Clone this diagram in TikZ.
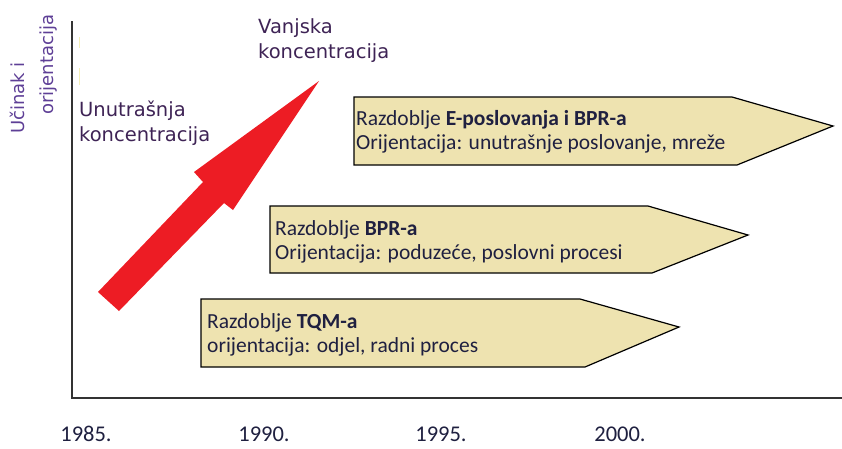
\documentclass[tikz,border=0pt]{standalone}
\usepackage{fontspec}
\setmainfont{Carlito}
\newfontfamily\labelfont{DejaVu Sans}
\definecolor{boxfill}{HTML}{EEE3B0}
\definecolor{arrowred}{HTML}{ED1C24}
\definecolor{labelpurple}{HTML}{3E2355}
\definecolor{axispurple}{HTML}{5E3F96}
\definecolor{textnavy}{HTML}{1F2040}
\definecolor{faintyellow}{HTML}{F4EFB8}
\begin{document}
\begin{tikzpicture}[x=1pt,y=-1pt,
  period/.style={fill=boxfill,draw=black,line width=1.2pt},
  periodtext/.style={anchor=west,align=left,inner sep=0pt,text=textnavy,font=\fontsize{21.5}{24}\selectfont},
  concept/.style={anchor=north west,align=left,inner sep=0pt,text=labelpurple,font=\labelfont\fontsize{19.5}{25}\selectfont},
  axislabel/.style={rotate=90,anchor=base west,inner sep=0pt,text=axispurple,font=\labelfont\fontsize{18}{21}\selectfont},
  year/.style={inner sep=0pt,text=textnavy,font=\fontsize{22.5}{26}\selectfont}]
\useasboundingbox (0,0) rectangle (842,448);
\draw [line width=2pt,black!80] (72,21) -- (72,398) -- (842,398);
\draw [faintyellow,line width=1pt] (79,37) -- (79,48) (79,68) -- (79,85);
\node [axislabel] (perf) at (24,134) {Učinak i};
\node [axislabel] (orient) at (53,115) {orijentacija};
\node [concept] (inner) at (79,101) {Unutrašnja\\koncentracija};
\node [concept] (outer) at (258,18) {Vanjska\\koncentracija};
\fill [arrowred] (98,292) -- (203,182) -- (194,172) -- (319,81) -- (233,210) -- (224,203) -- (119,311) -- cycle;
\filldraw [period] (354,97) -- (732,97) -- (833,126) -- (737,165) -- (354,165) -- cycle;
\node [periodtext] (ebiz) at (356,132) {Razdoblje \textbf{E-poslovanja i BPR-a}\\Orijentacija: unutrašnje poslovanje, mreže};
\filldraw [period] (270,206) -- (648,206) -- (748,235) -- (652,273) -- (270,273) -- cycle;
\node [periodtext] (bpr) at (275,242) {Razdoblje \textbf{BPR-a}\\Orijentacija: poduzeće, poslovni procesi};
\filldraw [period] (201,299) -- (580,299) -- (679,327) -- (585,367) -- (201,367) -- cycle;
\node [periodtext] (tqm) at (207,335) {Razdoblje \textbf{TQM-a}\\orijentacija: odjel, radni proces};
\node [year] (y85) at (86,434) {1985.};
\node [year] (y90) at (264,434) {1990.};
\node [year] (y95) at (441,434) {1995.};
\node [year] (y00) at (620,434) {2000.};
\end{tikzpicture}
\end{document}
